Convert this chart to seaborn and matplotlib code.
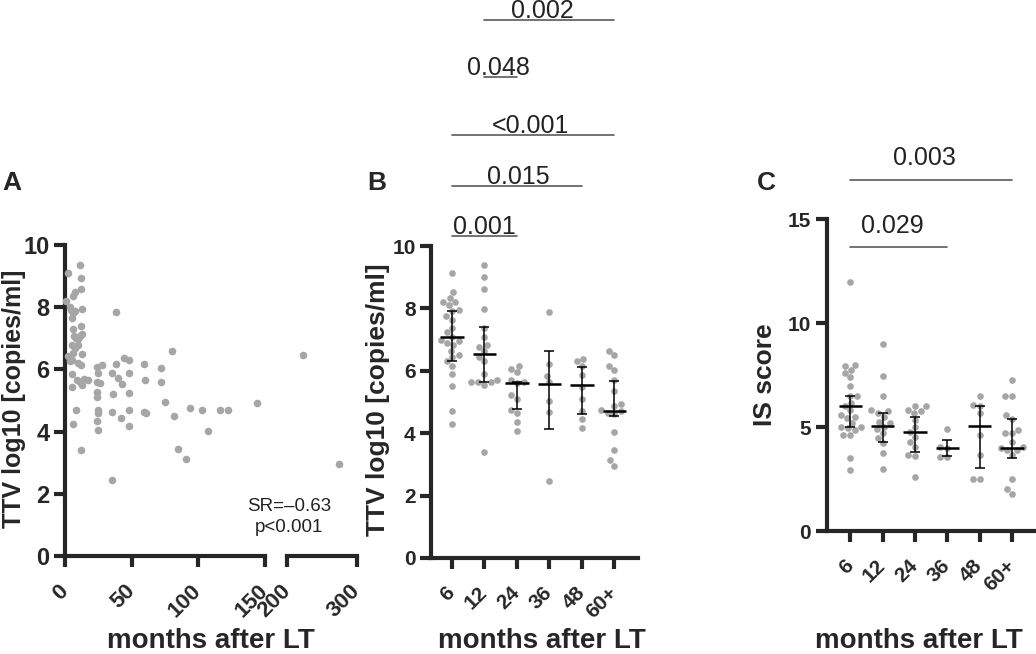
import matplotlib
matplotlib.use("Agg")
import matplotlib.pyplot as plt
import numpy as np
import pandas as pd
import seaborn as sns

# ---- data ---------------------------------------------------------------
A_MONTHS = [2.5, 11, 12, 12, 7.5, 6, 1, 4, 4.5, 6, 7.5, 5.5, 13, 38, 12, 6, 7, 8,
            9.5, 11, 12.5, 10, 5, 7.5, 13, 6, 2.5, 4, 5, 10, 12, 24, 27.5, 38, 44,
            48, 59, 72, 80, 5, 5, 9, 11, 12.5, 14, 17, 24, 26, 25, 35, 40, 42.5,
            48, 60, 72, 24, 24, 36, 48, 75, 144, 8, 25, 25, 35, 48, 59, 61, 94,
            103, 116, 122, 82, 42, 6, 24, 25, 48, 107, 84.5, 91, 12, 35, 222, 274]
A_TTV = [9.1, 9.35, 8.93, 8.6, 8.5, 8.36, 8.2, 8.0, 7.9, 7.82, 7.88, 7.66, 7.93,
         7.86, 7.4, 7.3, 7.07, 7.02, 6.97, 7.07, 7.15, 6.8, 6.8, 6.7, 6.5, 6.54,
         6.43, 6.27, 6.3, 6.2, 6.15, 6.08, 6.14, 6.16, 6.36, 6.3, 6.18, 6.06, 6.6,
         5.84, 5.45, 5.65, 5.6, 5.5, 5.68, 5.65, 5.6, 5.57, 5.9, 5.9, 5.73, 5.52,
         5.9, 5.65, 5.6, 5.28, 5.1, 5.2, 5.24, 4.96, 4.92, 4.7, 4.7, 4.6, 4.64,
         4.68, 4.64, 4.6, 4.75, 4.68, 4.68, 4.68, 4.5, 4.45, 4.25, 4.34, 4.05,
         4.18, 4.02, 3.45, 3.13, 3.4, 2.45, 6.48, 2.97]

GROUPS = ["6", "12", "24", "36", "48", "60+"]

B_TTV = {
    "6": [9.13, 8.52, 8.34, 8.2, 8.2, 8.1, 7.91, 7.94, 7.75, 7.64, 7.37, 7.24,
          7.1, 6.97, 6.84, 6.64, 6.5, 6.43, 6.3, 6.16, 5.9, 5.5, 4.7, 4.28, 7.0, 6.9],
    "12": [9.4, 9.0, 8.63, 7.98, 7.38, 7.1, 6.84, 6.77, 6.64, 6.43, 6.3, 5.9,
           5.65, 5.63, 5.7, 5.63, 5.55, 3.4],
    "24": [6.16, 6.06, 5.96, 5.63, 5.7, 5.6, 5.22, 5.09, 4.75, 4.65, 4.35, 4.06],
    "36": [7.89, 6.23, 5.83, 5.63, 5.02, 4.68, 2.46],
    "48": [6.3, 6.37, 6.16, 5.85, 5.49, 5.1, 4.7, 4.45, 4.17],
    "60+": [6.64, 6.5, 6.16, 6.03, 5.7, 5.36, 4.95, 4.88, 4.75, 4.7, 4.65, 4.6,
            4.03, 3.47, 3.13, 2.96],
}
B_MEDIAN = [7.08, 6.55, 5.6, 5.58, 5.55, 4.72]
B_Q1 = [6.3, 5.65, 4.78, 4.12, 4.6, 4.55]
B_Q3 = [7.91, 7.42, 5.65, 6.62, 6.12, 5.68]

C_IS = {
    "6": [11.98, 7.76, 7.95, 8.0, 7.6, 7.4, 6.96, 6.47, 6.47, 6.15, 5.99, 5.8,
          5.43, 5.5, 5.02, 4.94, 5.02, 4.86, 4.62, 4.62, 3.5, 2.93, 5.2, 5.6],
    "12": [8.97, 7.47, 6.47, 5.75, 5.67, 5.5, 5.18, 5.26, 5.02, 4.7, 4.46, 4.22,
           3.74, 2.96, 5.8, 4.9],
    "24": [5.99, 5.99, 5.75, 5.67, 5.35, 5.02, 4.78, 4.54, 4.3, 4.06, 3.66, 3.6,
           2.58, 5.8],
    "36": [4.9, 4.06, 4.0, 3.58, 3.58],
    "48": [6.47, 6.0, 6.07, 5.67, 4.62, 3.66, 2.48, 2.48],
    "60+": [7.25, 6.5, 6.5, 5.59, 5.4, 4.86, 4.7, 4.7, 4.3, 4.06, 3.9, 3.9, 3.66,
            2.48, 2.04, 1.8, 4.0],
}
C_MEDIAN = [6.0, 5.07, 4.75, 4.0, 5.07, 4.0]
C_Q1 = [5.0, 4.3, 3.8, 3.6, 3.05, 3.5]
C_Q3 = [6.5, 5.7, 5.5, 4.4, 6.0, 5.4]

# p-value brackets: (label, from group, to group, line height)
B_BRACKETS = [("0.001", 0, 2, 10.32), ("0.015", 0, 4, 11.92),
              ("<0.001", 0, 5, 13.56), ("0.048", 1, 2, 15.42),
              ("0.002", 1, 5, 17.24)]
B_LABEL_X = [1.0, 2.03, 2.42, 1.43, 2.78]
C_BRACKETS = [("0.029", 0, 3, 13.65), ("0.003", 0, 5, 16.88)]
C_LABEL_X = [1.3, 2.3]
C_LABEL_Y = [14.33, 17.6]

DOT = "#a6a6a6"
LW = 3.0

sns.set_style("ticks")
plt.rcParams["font.family"] = ["Liberation Sans", "DejaVu Sans"]
plt.rcParams["font.weight"] = "bold"


def long_df(groups):
    rows = [(g, v) for g in GROUPS for v in groups[g]]
    return pd.DataFrame(rows, columns=["month", "value"])


def style_axis(ax, tick_size):
    sns.despine(ax=ax)
    for s in ("left", "bottom"):
        ax.spines[s].set_linewidth(LW)
    ax.tick_params(width=LW, length=8, labelsize=tick_size, pad=3)
    ax.tick_params(axis="x", pad=15)


def rotate_xlabels(ax, size=None):
    plt.setp(ax.get_xticklabels(), rotation=45, ha="right", va="center",
             rotation_mode="anchor", fontweight="bold")
    if size:
        plt.setp(ax.get_xticklabels(), fontsize=size)


def group_panel(ax, df, median, q1, q3, ymax, yticks, xlim, tick_size):
    sns.swarmplot(data=df, x="month", y="value", order=GROUPS, color=DOT,
                  size=4.8, ax=ax, clip_on=False, zorder=2)
    pos = np.arange(len(GROUPS))
    med = np.array(median)
    ax.hlines(med, pos - 0.36, pos + 0.36, color="black", lw=1.8, zorder=4)
    ax.errorbar(pos, med, yerr=[med - np.array(q1), np.array(q3) - med],
                fmt="none", ecolor="black", elinewidth=1.1, capsize=3.6,
                capthick=1.1, zorder=4)
    ax.set_xlim(*xlim)
    ax.set_ylim(0, ymax)
    ax.set_yticks(yticks)
    ax.set_xlabel("")
    ax.set_ylabel("")
    style_axis(ax, tick_size)
    rotate_xlabels(ax)


def brackets(ax, items, xs, ys=None, gap=0.07):
    for k, (lab, a, b, y) in enumerate(items):
        ax.plot([a, b], [y, y], color="#5a5a5a", lw=1.2, clip_on=False)
        ty = y + gap if ys is None else ys[k]
        ax.text(xs[k], ty, lab, ha="center", va="baseline", fontsize=18,
                fontweight="normal", color="#222222", clip_on=False)


fig = plt.figure(figsize=(10.36, 6.54), dpi=100)

# ---- panel A : broken x axis ------------------------------------------------
axA1 = fig.add_axes([0.0627, 0.1498, 0.1931, 0.4755])
axA2 = fig.add_axes([0.2775, 0.1498, 0.0671, 0.4755])
a_df = pd.DataFrame({"months": A_MONTHS, "ttv": A_TTV})
for ax, lo, hi in ((axA1, 0, 150), (axA2, 200, 300)):
    part = a_df[(a_df.months >= lo) & (a_df.months <= hi)]
    sns.scatterplot(data=part, x="months", y="ttv", color=DOT, s=30,
                    linewidth=0, ax=ax, clip_on=False, zorder=3)
    ax.set_xlim(lo, hi)
    ax.set_ylim(0, 10)
    ax.set_xlabel("")
    ax.set_ylabel("")
axA1.set_xticks([0, 50, 100, 150])
axA1.set_yticks([0, 2, 4, 6, 8, 10])
axA2.set_xticks([200, 300])
axA2.set_yticks([])
style_axis(axA1, 17)
style_axis(axA2, 17)
axA2.spines["left"].set_visible(False)
axA2.tick_params(axis="y", left=False)
axA1.set_xticks([150], minor=True)
axA2.set_xticks([200], minor=True)
for ax in (axA1, axA2):
    ax.tick_params(axis="x", which="minor", direction="in", length=8, width=LW)
    rotate_xlabels(ax, 16)
axA1.set_ylabel("TTV log10 [copies/ml]", fontsize=18, fontweight="bold")
axA1.yaxis.set_label_coords(-0.195, 0.505)
axA1.set_xlabel("months after LT", fontsize=20, fontweight="bold")
axA1.xaxis.set_label_coords(0.73, -0.232)
fig.text(289 / 1036, 1 - 517 / 654, "SR=\u20130.63\np<0.001", ha="center",
         va="center", fontsize=13.5, fontweight="normal", linespacing=1.3,
         color="#222222")

# ---- panel B ------------------------------------------------------------------
axB = fig.add_axes([0.416, 0.1468, 0.1998, 0.477])
group_panel(axB, long_df(B_TTV), B_MEDIAN, B_Q1, B_Q3, 10,
            [0, 2, 4, 6, 8, 10], (-0.646, 5.723), 15)
axB.set_ylabel("TTV log10 [copies/ml]", fontsize=19, fontweight="bold")
axB.yaxis.set_label_coords(-0.2, 0.506)
axB.set_xlabel("months after LT", fontsize=20, fontweight="bold")
axB.xaxis.set_label_coords(0.536, -0.224)
brackets(axB, B_BRACKETS, B_LABEL_X)

# ---- panel C ------------------------------------------------------------------
axC = fig.add_axes([0.7978, 0.188, 0.2022, 0.477])
group_panel(axC, long_df(C_IS), C_MEDIAN, C_Q1, C_Q3, 15,
            [0, 5, 10, 15], (-0.73, 5.74), 15)
axC.set_ylabel("IS score", fontsize=19, fontweight="bold")
axC.yaxis.set_label_coords(-0.236, 0.5)
axC.set_xlabel("months after LT", fontsize=20, fontweight="bold")
axC.xaxis.set_label_coords(0.44, -0.311)
brackets(axC, C_BRACKETS, C_LABEL_X, C_LABEL_Y)

# ---- panel letters -------------------------------------------------------------
for x, letter in ((12, "A"), (377, "B"), (766, "C")):
    fig.text(x / 1036, 1 - 183 / 654, letter, ha="center", va="center",
             fontsize=19, fontweight="bold")

fig.savefig("out.png", dpi=100)
